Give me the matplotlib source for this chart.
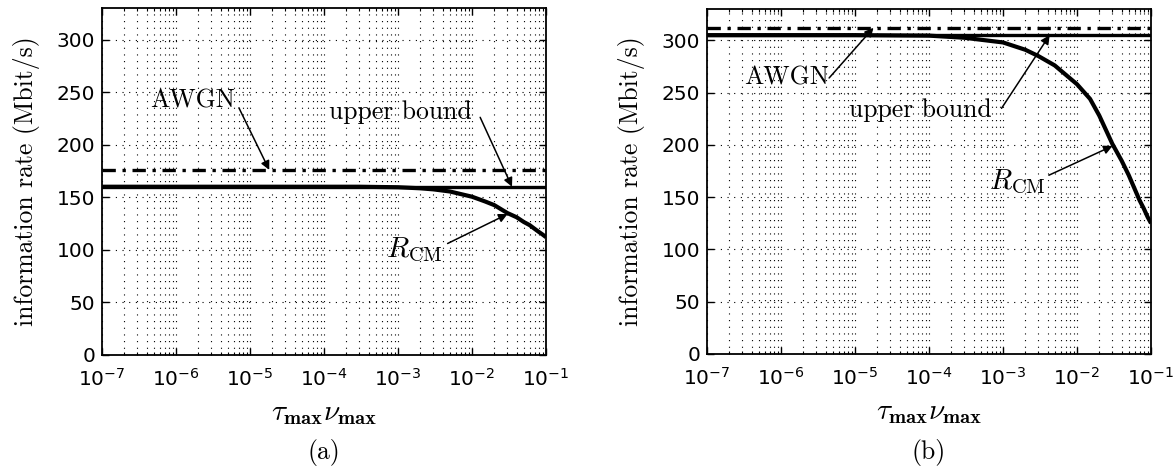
import numpy as np
import matplotlib
matplotlib.use('Agg')
import matplotlib.pyplot as plt
from matplotlib.ticker import LogLocator, NullFormatter

plt.rcParams['font.family'] = ['DejaVu Sans']
plt.rcParams['mathtext.fontset'] = 'cm'
plt.rcParams['axes.unicode_minus'] = False

# tau_max * nu_max sample points (shared by both panels)
spread = [1e-7, 1e-6, 1e-5, 1e-4, 3e-4, 1e-3, 2e-3, 3e-3, 5e-3,
          1e-2, 1.5e-2, 2e-2, 3e-2, 4e-2, 5e-2, 6e-2, 7e-2, 8e-2, 9e-2, 1e-1]

# panel (a): information rates in Mbit/s
rcm_a = [160, 160, 160, 160, 160, 159.5, 158.5, 157.5, 155.5,
         150.5, 146, 142.5, 135, 131, 126.5, 123.5, 120, 117, 114.5, 112]
upper_a = 160
awgn_a = 176

# panel (b)
rcm_b = [305, 305, 305, 304.5, 302.5, 298, 291, 285, 276,
         258, 244, 228, 201, 185, 171, 158, 147, 139, 131, 125]
upper_b = 305
awgn_b = 312

yticks = [0, 50, 100, 150, 200, 250, 300]
panel_names = ['(a)', '(b)']

serif = 'cmr10'
FS = 18.5


def setup(ax):
    ax.set_xscale('log')
    ax.set_xlim(1e-7, 1e-1)
    ax.set_ylim(0, 330)
    ax.set_yticks(yticks)
    ax.xaxis.set_major_locator(LogLocator(base=10, numticks=10))
    ax.xaxis.set_minor_locator(LogLocator(base=10, subs=np.arange(2, 10), numticks=100))
    ax.xaxis.set_minor_formatter(NullFormatter())
    ax.grid(True, which='major', color='k', lw=0.8, ls=(0, (1, 5)))
    ax.grid(True, which='minor', axis='x', color='k', lw=0.8, ls=(0, (1, 5)))
    ax.tick_params(which='both', direction='in', top=True, right=True,
                   labelsize=14.5)
    ax.tick_params(axis='x', which='major', pad=9)
    ax.tick_params(axis='y', which='major', pad=5)
    ax.tick_params(which='major', length=5, width=1)
    ax.tick_params(which='minor', length=2.5, width=0.8)
    for s in ax.spines.values():
        s.set_linewidth(1.3)
    ax.set_ylabel('information rate (Mbit/s)', family=serif, fontsize=FS, labelpad=12)
    ax.set_xlabel(r'$\tau_{\mathbf{max}}\nu_{\mathbf{max}}$', fontsize=21, labelpad=7)


def arrow(ax, start, tip):
    ax.annotate('', xy=tip, xytext=start,
                arrowprops=dict(arrowstyle='-|>', lw=1.1, color='k',
                                mutation_scale=13, shrinkA=0, shrinkB=0))


fig = plt.figure(figsize=(11.75, 4.68), dpi=100)
ax1 = fig.add_axes([0.0868, 0.2415, 0.3779, 0.7415])
ax2 = fig.add_axes([0.6017, 0.2436, 0.3779, 0.7372])

for ax, rcm, ub, awgn in [(ax1, rcm_a, upper_a, awgn_a), (ax2, rcm_b, upper_b, awgn_b)]:
    setup(ax)
    ax.plot(spread, rcm, color='k', lw=3, solid_capstyle='butt', solid_joinstyle='round')
    ax.axhline(ub, color='k', lw=2.4)
    ax.axhline(awgn, color='k', lw=2.4, ls=(0, (4, 2, 1, 2)))

# labels with arrows, panel (a)
ax1.text(10**-5.78, 242, 'AWGN', family=serif, fontsize=FS, ha='center', va='center')
arrow(ax1, (10**-5.15, 235), (10**-4.74, awgn_a))
ax1.text(10**-2.97, 231, 'upper bound', family=serif, fontsize=FS, ha='center', va='center')
arrow(ax1, (10**-1.89, 226), (10**-1.46, upper_a))
ax1.text(10**-2.78, 100, r'$R_{\mathrm{CM}}$', fontsize=21, ha='center', va='center')
arrow(ax1, (10**-2.33, 106), (10**-1.52, 134))

# panel (b)
ax2.text(10**-5.93, 264, 'AWGN', family=serif, fontsize=FS, ha='center', va='center')
arrow(ax2, (10**-5.35, 264), (10**-4.75, awgn_b))
ax2.text(10**-4.12, 233, 'upper bound', family=serif, fontsize=FS, ha='center', va='center')
arrow(ax2, (10**-3.02, 235), (10**-2.37, upper_b))
ax2.text(10**-2.80, 165, r'$R_{\mathrm{CM}}$', fontsize=21, ha='center', va='center')
arrow(ax2, (10**-2.38, 171), (10**-1.52, 199))

for ax, name in zip([ax1, ax2], panel_names):
    x0 = ax.get_position().x0 + ax.get_position().width / 2
    fig.text(x0, 0.034, name, family=serif, fontsize=FS, ha='center', va='center')

fig.savefig('out.png', dpi=100)
